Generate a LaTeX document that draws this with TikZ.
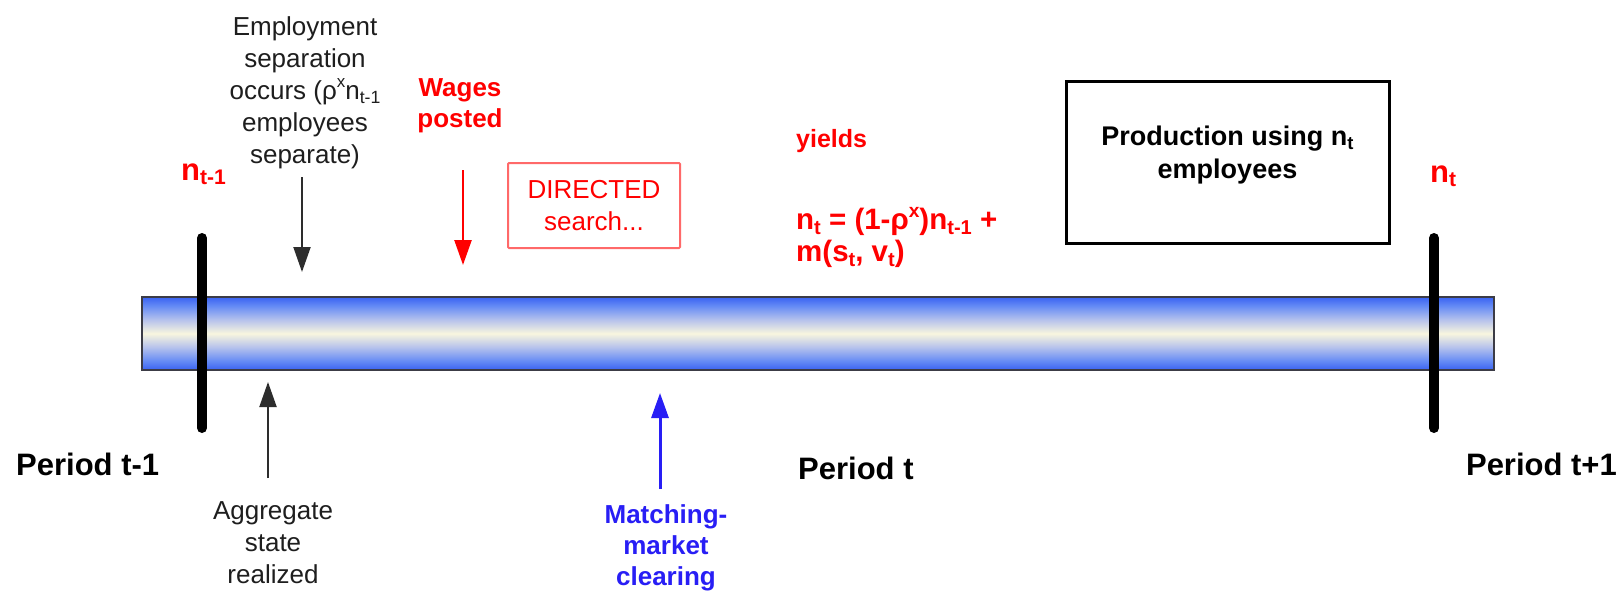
\documentclass[tikz,border=0pt]{standalone}
\usepackage{fontspec}
\setmainfont{Liberation Sans}
\usetikzlibrary{arrows.meta}
\definecolor{tubeblue}{RGB}{58,98,242}
\definecolor{tubemid}{RGB}{100,138,245}
\definecolor{tubelav}{RGB}{185,196,236}
\definecolor{tubecream}{RGB}{248,246,222}
\definecolor{barline}{RGB}{60,60,70}
\definecolor{notegray}{RGB}{30,30,30}
\definecolor{boxred}{RGB}{255,105,105}
\definecolor{matchblue}{RGB}{40,30,245}
\definecolor{arrowgray}{RGB}{45,45,45}
\pgfdeclareverticalshading{tube}{100bp}{color(0bp)=(tubeblue); color(25bp)=(tubeblue); color(31bp)=(tubemid); color(41bp)=(tubelav); color(50bp)=(tubecream); color(59bp)=(tubelav); color(69bp)=(tubemid); color(75bp)=(tubeblue); color(100bp)=(tubeblue)}
\newcommand\mysub[1]{\raisebox{-0.16em}{\scalebox{0.68}{#1}}}
\newcommand\mysup[1]{\raisebox{0.45em}{\scalebox{0.65}{#1}}}
\tikzset{
  big/.style={inner sep=0pt, font=\fontsize{31}{37}\selectfont\bfseries},
  redbig/.style={big, text=red},
  note/.style={inner sep=0pt, align=center, font=\fontsize{26}{32}\selectfont, text=notegray},
  rednote/.style={inner sep=0pt, align=center, font=\fontsize{26}{31}\selectfont\bfseries, text=red},
  bluenote/.style={inner sep=0pt, align=center, font=\fontsize{26}{31}\selectfont\bfseries, text=matchblue},
  tubebar/.style={draw=barline, line width=1.8pt, shade, shading=tube, minimum width=1352pt, minimum height=73pt, inner sep=0pt},
  tickline/.style={line width=10pt, line cap=round, black},
  dirbox/.style={draw=boxred, line width=2pt, rounded corners=1pt, minimum width=172pt, minimum height=85pt, inner sep=0pt, align=center, text=red, font=\fontsize{26}{32}\selectfont},
  prodbox/.style={draw=black, line width=3pt, minimum width=323pt, minimum height=161pt, inner sep=0pt},
  prodtext/.style={inner sep=0pt, align=center, font=\fontsize{27}{33}\selectfont\bfseries},
  eqtext/.style={inner sep=0pt, align=left, text=red, font=\fontsize{29.5}{32}\selectfont\bfseries},
  blackarrow/.style={draw=arrowgray, line width=2pt, -{Triangle[width=17pt,length=25pt]}, arrowgray},
  redarrow/.style={draw=red, line width=2.5pt, -{Triangle[width=17pt,length=25pt]}, red},
  bluearrow/.style={draw=matchblue, line width=3pt, -{Triangle[width=17pt,length=25pt]}, matchblue},
}
\begin{document}
\begin{tikzpicture}[x=1pt, y=-1pt]
\useasboundingbox (0,0) rectangle (1619,591);
\fill[white] (0,0) rectangle (1619,591);

% timeline bar
\node[tubebar] (bar) at (818,333.5) {};

% period ticks
\coordinate (ltA) at (202,238);
\coordinate (ltB) at (202,428);
\coordinate (rtA) at (1434,238);
\coordinate (rtB) at (1434,428);
\draw[tickline] (ltA) -- (ltB);
\draw[tickline] (rtA) -- (rtB);

% labels at ticks
\node[redbig, anchor=base west] (nprev) at (181,180) {n\mysub{t-1}};
\node[redbig, anchor=base west] (ncur) at (1430,182) {n\mysub{t}};

% period names
\node[big, anchor=base west] (pprev) at (16,475) {Period t-1};
\node[big, anchor=base west] (pcur) at (798,479) {Period t};
\node[big, anchor=base east] (pnext) at (1617,475) {Period t+1};

% employment separation
\node[note, anchor=north] (sep) at (305,16.5) {Employment\\separation\\occurs (ρ\mysup{x}n\mysub{t-1}\\employees\\separate)};
\coordinate (sepA) at (302,177);
\coordinate (sepB) at (302,272);
\draw[blackarrow] (sepA) -- (sepB);

% wages posted
\node[rednote, anchor=north] (wages) at (460,78.4) {Wages\\posted};
\coordinate (wagA) at (463,170);
\coordinate (wagB) at (463,265);
\draw[redarrow] (wagA) -- (wagB);

% directed search box
\node[dirbox] (dir) at (594,205.5) {DIRECTED\\search...};

% yields and law of motion
\node[redbig, font=\fontsize{25}{30}\selectfont\bfseries, anchor=base west] (yields) at (796,147) {yields};
\node[eqtext, anchor=north west] (eq) at (796,206.7) {n\mysub{t} = (1-ρ\raisebox{0.42em}{\scalebox{0.65}{x}})n\mysub{t-1} +\\m(s\mysub{t}, v\mysub{t})};

% production box
\node[prodbox] (prod) at (1227.5,162.5) {};
\node[prodtext, anchor=north] (prodtxt) at (1227.5,125.7) {Production using n\mysub{t}\\employees};

% aggregate state
\node[note, anchor=north] (agg) at (273,501.4) {Aggregate\\state\\realized};
\coordinate (aggA) at (268,478);
\coordinate (aggB) at (268,382);
\draw[blackarrow] (aggA) -- (aggB);

% matching market
\node[bluenote, anchor=north] (match) at (666,504.4) {Matching-\\market\\clearing};
\coordinate (matA) at (660,489);
\coordinate (matB) at (660,393);
\draw[bluearrow] (matA) -- (matB);
\end{tikzpicture}
\end{document}
